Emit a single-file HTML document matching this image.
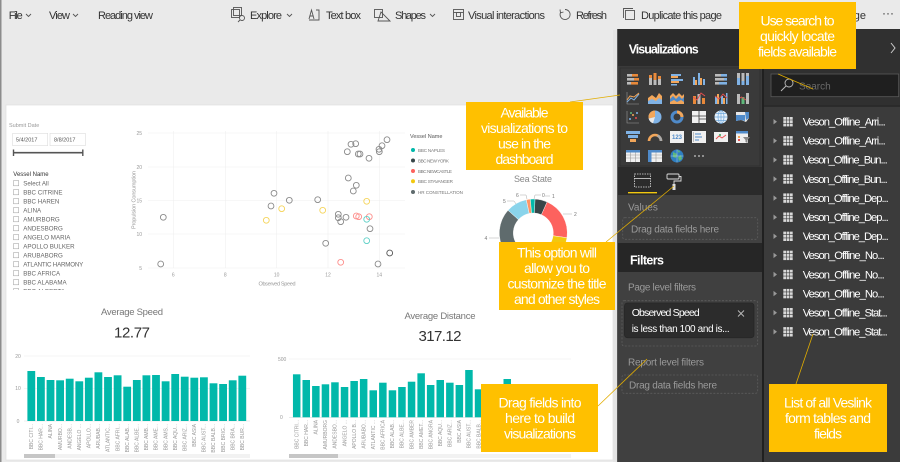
<!DOCTYPE html>
<html><head><meta charset="utf-8">
<style>
html,body{margin:0;padding:0;width:900px;height:462px;overflow:hidden;background:#eaeaea}
svg{display:block}
text{font-family:"Liberation Sans",sans-serif}
</style></head><body>
<svg width="900" height="462" viewBox="0 0 900 462" xmlns="http://www.w3.org/2000/svg">
<defs>
<clipPath id="slc"><rect x="8" y="176" width="100" height="114"/></clipPath>
</defs>
<rect width="900" height="462" fill="#eaeaea"/>
<rect x="0" y="0" width="1.5" height="462" fill="#8c8c8c"/>

<!-- ===== Toolbar ===== -->
<g font-size="11" fill="#333">
<text x="8.7" y="19" textLength="14">File</text>
<text x="49" y="19" textLength="21">View</text>
<text x="98" y="19" textLength="55">Reading view</text>
<text x="250" y="19" textLength="32">Explore</text>
<text x="326" y="19" textLength="35">Text box</text>
<text x="395" y="19" textLength="31">Shapes</text>
<text x="468" y="19" textLength="77">Visual interactions</text>
<text x="576" y="19" textLength="31">Refresh</text>
<text x="641" y="19" textLength="81">Duplicate this page</text>
<text x="866" y="19" text-anchor="end">page</text>
<text x="882" y="17" font-size="12">···</text>
</g>
<g fill="none" stroke="#555" stroke-width="0.9">
<polyline points="26,14 28.5,16.5 31,14"/>
<polyline points="73,14 75.5,16.5 78,14"/>
<polyline points="287,14 289.5,16.5 292,14"/>
<polyline points="430,14 432.5,16.5 435,14"/>
<!-- explore -->
<rect x="231.5" y="9.5" width="8" height="8"/><rect x="233.5" y="7.5" width="8" height="8"/><circle cx="242" cy="18" r="2.5"/><line x1="240" y1="20" x2="238" y2="22"/>
<!-- text box -->
<path d="M309,19 L311.5,10 L314,19 M310,16 H313"/><path d="M316,10 H319 V20 H309"/>
<!-- shapes -->
<rect x="374.5" y="9.5" width="8" height="8"/><path d="M381,12 L390,21 H378 Z"/>
<!-- visual interactions -->
<rect x="453.5" y="9.5" width="10" height="10"/><rect x="456.5" y="12.5" width="4" height="4"/><line x1="453.5" y1="12.5" x2="463.5" y2="12.5"/>
<!-- refresh -->
<path d="M565,9.5 A5,5 0 1 1 560.5,12.5"/><polyline points="560,9.5 560.5,12.8 563.5,12"/>
<!-- duplicate -->
<rect x="625.5" y="10.5" width="9" height="9"/><path d="M623.5,18 V8.5 H633"/>
</g>

<!-- ===== Canvas ===== -->
<rect x="6" y="105" width="607" height="355" fill="#ffffff" stroke="#dcdcdc" stroke-width="0.6"/>
<rect x="613" y="30" width="4.5" height="432" fill="#e4e4e4"/>
<rect x="617" y="29" width="1.2" height="433" fill="#555"/>

<!-- Slicer date -->
<text x="9" y="127" font-size="5.5" fill="#999">Submit Date</text>
<rect x="12.7" y="133.3" width="35" height="12.4" fill="#fff" stroke="#ddd" stroke-width="0.6"/>
<rect x="50" y="133.3" width="35.3" height="12.4" fill="#fff" stroke="#ddd" stroke-width="0.6"/>
<text x="16" y="141.5" font-size="5.5" fill="#555">5/4/2017</text>
<text x="54" y="141.5" font-size="5.5" fill="#555">8/8/2017</text>
<line x1="13" y1="152.7" x2="83" y2="152.7" stroke="#555" stroke-width="1.6"/>
<line x1="13.5" y1="149.5" x2="13.5" y2="156" stroke="#555" stroke-width="1.4"/>
<line x1="82.8" y1="149.5" x2="82.8" y2="156" stroke="#555" stroke-width="1.4"/>
<text x="13.3" y="176" font-size="6" fill="#333">Vessel Name</text>
<g clip-path="url(#slc)" font-size="6.2" fill="#666">
<g fill="none" stroke="#9a9a9a" stroke-width="0.5">
<rect x="13.5" y="180.6" width="5.2" height="5.2"/><rect x="13.5" y="189.6" width="5.2" height="5.2"/><rect x="13.5" y="198.6" width="5.2" height="5.2"/><rect x="13.5" y="207.6" width="5.2" height="5.2"/><rect x="13.5" y="216.6" width="5.2" height="5.2"/><rect x="13.5" y="225.6" width="5.2" height="5.2"/><rect x="13.5" y="234.6" width="5.2" height="5.2"/><rect x="13.5" y="243.6" width="5.2" height="5.2"/><rect x="13.5" y="252.6" width="5.2" height="5.2"/><rect x="13.5" y="261.6" width="5.2" height="5.2"/><rect x="13.5" y="270.6" width="5.2" height="5.2"/><rect x="13.5" y="279.6" width="5.2" height="5.2"/><rect x="13.5" y="288.6" width="5.2" height="5.2"/>
</g>
<text x="23.3" y="185.5">Select All</text>
<text x="23.3" y="194.5">BBC CITRINE</text>
<text x="23.3" y="203.5">BBC HAREN</text>
<text x="23.3" y="212.5">ALINA</text>
<text x="23.3" y="221.5">AMURBORG</text>
<text x="23.3" y="230.5">ANDESBORG</text>
<text x="23.3" y="239.5">ANGELO MARIA</text>
<text x="23.3" y="248.5">APOLLO BULKER</text>
<text x="23.3" y="257.5">ARUBABORG</text>
<text x="23.3" y="266.5" textLength="60">ATLANTIC HARMONY</text>
<text x="23.3" y="275.5">BBC AFRICA</text>
<text x="23.3" y="284.5">BBC ALABAMA</text>
<text x="23.3" y="293.5">BBC ALBERTA</text>
</g>

<!-- Scatter -->
<g stroke="#efefef" stroke-width="0.6">
<line x1="148" y1="133" x2="405" y2="133"/><line x1="148" y1="167" x2="405" y2="167"/><line x1="148" y1="200.5" x2="405" y2="200.5"/><line x1="148" y1="234" x2="405" y2="234"/><line x1="148" y1="268" x2="405" y2="268"/>
<line x1="173.3" y1="131" x2="173.3" y2="268"/><line x1="225.3" y1="131" x2="225.3" y2="268"/><line x1="276.7" y1="131" x2="276.7" y2="268"/><line x1="328" y1="131" x2="328" y2="268"/><line x1="379.3" y1="131" x2="379.3" y2="268"/>
</g>
<g font-size="5" fill="#999">
<text x="142" y="135" text-anchor="end">25</text>
<text x="142" y="169" text-anchor="end">20</text>
<text x="142" y="202.5" text-anchor="end">15</text>
<text x="142" y="236" text-anchor="end">10</text>
<text x="142" y="270" text-anchor="end">5</text>
<text x="173.3" y="276.5" text-anchor="middle">6</text>
<text x="225.3" y="276.5" text-anchor="middle">8</text>
<text x="276.7" y="276.5" text-anchor="middle">10</text>
<text x="328" y="276.5" text-anchor="middle">12</text>
<text x="379.3" y="276.5" text-anchor="middle">14</text>
<text x="277" y="285.5" text-anchor="middle" font-size="5.5" textLength="37">Observed Speed</text>
<text transform="translate(135.5,200) rotate(-90)" text-anchor="middle" font-size="5.5" textLength="58">Propulsion Consumption</text>
</g>
<g fill="none" stroke-width="0.9">
<g stroke="#8a8a8a">
<circle cx="163.3" cy="217.3" r="2.9"/><circle cx="160.7" cy="264" r="2.9"/><circle cx="271" cy="206" r="2.9"/><circle cx="274" cy="193.3" r="2.9"/><circle cx="289.3" cy="200.3" r="2.9"/><circle cx="317.7" cy="199.7" r="2.9"/><circle cx="325.7" cy="243.3" r="2.9"/><circle cx="338.3" cy="214.3" r="2.9"/><circle cx="338.3" cy="217.7" r="2.9"/><circle cx="340.7" cy="221.7" r="2.9"/><circle cx="346" cy="217.3" r="2.9"/><circle cx="348.3" cy="178" r="2.9"/><circle cx="347.3" cy="151.7" r="2.9"/><circle cx="351" cy="144.3" r="2.9"/><circle cx="355.7" cy="143.7" r="2.9"/><circle cx="353.3" cy="191" r="2.9"/><circle cx="356.3" cy="185.3" r="2.9"/><circle cx="358.3" cy="154" r="2.9"/><circle cx="360" cy="154" r="2.9"/><circle cx="369" cy="158.3" r="2.9"/><circle cx="370" cy="228.7" r="2.9"/><circle cx="379" cy="149.3" r="2.9"/><circle cx="379.3" cy="151.7" r="2.9"/><circle cx="382" cy="145.7" r="2.9"/><circle cx="387" cy="139.7" r="2.9"/><circle cx="378" cy="264" r="2.9"/>
</g>
<circle cx="389.7" cy="253" r="2.9" stroke="#555"/>
<g stroke="#f5d45a"><circle cx="266.3" cy="220.3" r="2.9"/><circle cx="281.7" cy="208.7" r="2.9"/><circle cx="322.7" cy="210.3" r="2.9"/><circle cx="366.7" cy="201.3" r="2.9"/></g>
<g stroke="#fd8e8b"><circle cx="340.7" cy="262.3" r="2.9"/><circle cx="356.3" cy="216" r="2.9"/><circle cx="358.7" cy="216.7" r="2.9"/><circle cx="369.3" cy="216.7" r="2.9"/></g>
<g stroke="#5fd0c7"><circle cx="366.7" cy="219.3" r="2.9"/><circle cx="366.7" cy="240.7" r="2.9"/></g>
</g>
<!-- legend -->
<text x="410" y="138" font-size="5.5" fill="#555">Vessel Name</text>
<circle cx="413" cy="150" r="2" fill="#01b8aa"/><circle cx="413" cy="160.5" r="2" fill="#374649"/><circle cx="413" cy="171" r="2" fill="#fd625e"/><circle cx="413" cy="181.3" r="2" fill="#f2c80f"/><circle cx="413" cy="192" r="2" fill="#5f6b6d"/>
<g font-size="4.6" fill="#777">
<text x="418" y="151.8" textLength="27">BBC NAPLES</text>
<text x="418" y="162.3" textLength="31">BBC NEW YORK</text>
<text x="418" y="172.8" textLength="34">BBC NEWCASTLE</text>
<text x="418" y="183.1" textLength="35">BBC STAVANGER</text>
<text x="418" y="193.8" textLength="45">HR CONSTELLATION</text>
</g>

<!-- Donut -->
<text x="533" y="182" font-size="9" fill="#888" text-anchor="middle" textLength="38">Sea State</text>
<g stroke="#fff" stroke-width="0.4">
<path d="M526.23,199.74 A34,34 0 0 1 530.34,199.13 L531.56,213.08 A20,20 0 0 0 529.14,213.44 Z" fill="#fe9666"/>
<path d="M530.34,199.13 A34,34 0 0 1 535.08,199.05 L534.35,213.03 A20,20 0 0 0 531.56,213.08 Z" fill="#01b8aa"/>
<path d="M535.08,199.05 A34,34 0 0 1 547.13,201.94 L541.43,214.73 A20,20 0 0 0 534.35,213.03 Z" fill="#374649"/>
<path d="M547.13,201.94 A34,34 0 0 1 566.97,237.73 L553.11,235.78 A20,20 0 0 0 541.43,214.73 Z" fill="#fd625e"/>
<path d="M566.97,237.73 A34,34 0 0 1 542.10,265.84 L538.48,252.32 A20,20 0 0 0 553.11,235.78 Z" fill="#f2c80f"/>
<path d="M542.10,265.84 A34,34 0 0 1 508.03,210.25 L518.44,219.62 A20,20 0 0 0 538.48,252.32 Z" fill="#5f6b6d"/>
<path d="M508.03,210.25 A34,34 0 0 1 526.23,199.74 L529.14,213.44 A20,20 0 0 0 518.44,219.62 Z" fill="#8ad4eb"/>
</g>
<g stroke="#aaa" stroke-width="0.5" fill="none">
<path d="M520,195 H526 L527,199"/><path d="M507,201 H514 L516,204"/><path d="M541,195 H535 L534,199"/><path d="M545,196 H550"/><path d="M563,214 H572"/><path d="M489,238 H499"/>
</g>
<g font-size="5" fill="#777">
<text x="516" y="197">6</text><text x="503" y="203">5</text><text x="542" y="197">0</text><text x="552" y="198">1</text><text x="574" y="216">2</text><text x="484.5" y="240">4</text>
</g>

<!-- Average Speed card -->
<text x="132" y="315" font-size="9.5" fill="#777" text-anchor="middle" textLength="62">Average Speed</text>
<text x="132" y="337.5" font-size="15" fill="#333" text-anchor="middle" textLength="36">12.77</text>
<g stroke="#eee" stroke-width="0.6"><line x1="24" y1="356" x2="250" y2="356"/><line x1="24" y1="388.3" x2="250" y2="388.3"/></g>
<line x1="24" y1="421" x2="250" y2="421" stroke="#ddd" stroke-width="0.6"/>
<g font-size="5" fill="#999"><text x="18" y="358" text-anchor="middle">20</text><text x="18" y="390" text-anchor="middle">10</text><text x="18" y="423" text-anchor="middle">0</text></g>
<g fill="#01b8aa">
<rect x="27.4" y="371" width="7.8" height="50"/><rect x="37.0" y="377" width="7.8" height="44"/><rect x="46.6" y="380" width="7.8" height="41"/><rect x="56.2" y="380.3" width="7.8" height="40.7"/><rect x="65.8" y="378.7" width="7.8" height="42.3"/><rect x="75.4" y="381.3" width="7.8" height="39.7"/><rect x="84.9" y="377.7" width="7.8" height="43.3"/><rect x="94.5" y="372.3" width="7.8" height="48.7"/><rect x="104.1" y="377" width="7.8" height="44"/><rect x="113.7" y="375.3" width="7.8" height="45.7"/><rect x="123.3" y="386.7" width="7.8" height="34.3"/><rect x="132.9" y="380" width="7.8" height="41"/><rect x="142.5" y="375.3" width="7.8" height="45.7"/><rect x="152.1" y="375" width="7.8" height="46"/><rect x="161.7" y="381.3" width="7.8" height="39.7"/><rect x="171.3" y="374" width="7.8" height="47"/><rect x="180.8" y="376.7" width="7.8" height="44.3"/><rect x="190.4" y="377.7" width="7.8" height="43.3"/><rect x="200.0" y="377.3" width="7.8" height="43.7"/><rect x="209.6" y="383.3" width="7.8" height="37.7"/><rect x="219.2" y="384" width="7.8" height="37"/><rect x="228.8" y="380.3" width="7.8" height="40.7"/><rect x="238.4" y="375.7" width="7.8" height="45.3"/>
</g>
<g font-size="5" fill="#999" text-anchor="end">
<text transform="translate(33,424) rotate(-90)">BBC CITI...</text>
<text transform="translate(42.6,424) rotate(-90)">BBC HAR...</text>
<text transform="translate(52.2,424) rotate(-90)">ALINA</text>
<text transform="translate(61.8,424) rotate(-90)">AMURBO...</text>
<text transform="translate(71.4,424) rotate(-90)">ANDESB...</text>
<text transform="translate(81,424) rotate(-90)">ANGELO ...</text>
<text transform="translate(90.5,424) rotate(-90)">APOLLO...</text>
<text transform="translate(100.1,424) rotate(-90)">ARUBAB...</text>
<text transform="translate(109.7,424) rotate(-90)">ATLANTIC...</text>
<text transform="translate(119.3,424) rotate(-90)">BBC AFRI...</text>
<text transform="translate(128.9,424) rotate(-90)">BBC ALAB...</text>
<text transform="translate(138.5,424) rotate(-90)">BBC ALBE...</text>
<text transform="translate(148.1,424) rotate(-90)">BBC AMB...</text>
<text transform="translate(157.7,424) rotate(-90)">BBC AME...</text>
<text transform="translate(167.3,424) rotate(-90)">BBC AMS...</text>
<text transform="translate(176.9,424) rotate(-90)">BBC AQU...</text>
<text transform="translate(186.4,424) rotate(-90)">BBC ARIZ...</text>
<text transform="translate(196,424) rotate(-90)">BBC ASIA</text>
<text transform="translate(205.6,424) rotate(-90)">BBC AUST...</text>
<text transform="translate(215.2,424) rotate(-90)">BBC BALB...</text>
<text transform="translate(224.8,424) rotate(-90)">BBC BRIG...</text>
<text transform="translate(234.4,424) rotate(-90)">BBC BRA...</text>
<text transform="translate(244,424) rotate(-90)">BBC BUR...</text>
</g>
<rect x="24" y="454" width="226" height="4" fill="#f2f2f2"/>
<rect x="24" y="454" width="31" height="4" fill="#c6c6c6"/>

<!-- Average Distance card -->
<text x="440" y="319" font-size="9.5" fill="#777" text-anchor="middle" textLength="71">Average Distance</text>
<text x="440" y="341" font-size="15" fill="#333" text-anchor="middle" textLength="43">317.12</text>
<line x1="289" y1="359" x2="571" y2="359" stroke="#eee" stroke-width="0.6"/>
<line x1="289" y1="417.3" x2="571" y2="417.3" stroke="#ddd" stroke-width="0.6"/>
<g font-size="5" fill="#999"><text x="278" y="361">500</text><text x="280" y="419">0</text></g>
<g fill="#01b8aa">
<rect x="292.95" y="374.3" width="7.5" height="43"/><rect x="302.5" y="380" width="7.5" height="37.3"/><rect x="312.1" y="386" width="7.5" height="31.3"/><rect x="321.7" y="384.3" width="7.5" height="33"/><rect x="331.2" y="382.3" width="7.5" height="35"/><rect x="340.8" y="387" width="7.5" height="30.3"/><rect x="350.4" y="381" width="7.5" height="36.3"/><rect x="359.9" y="379" width="7.5" height="38.3"/><rect x="369.5" y="390.3" width="7.5" height="27"/><rect x="379.1" y="382.7" width="7.5" height="34.6"/><rect x="388.7" y="390.3" width="7.5" height="27"/><rect x="398.2" y="387" width="7.5" height="30.3"/><rect x="407.8" y="381.7" width="7.5" height="35.6"/><rect x="417.4" y="373.3" width="7.5" height="44"/><rect x="426.9" y="385" width="7.5" height="32.3"/><rect x="436.5" y="380" width="7.5" height="37.3"/><rect x="446.1" y="382.7" width="7.5" height="34.6"/><rect x="455.6" y="385" width="7.5" height="32.3"/><rect x="465.2" y="370" width="7.5" height="47.3"/><rect x="474.8" y="389.3" width="7.5" height="28"/><rect x="484.4" y="388" width="7.5" height="29.3"/><rect x="493.9" y="387" width="7.5" height="30.3"/><rect x="503.5" y="379" width="7.5" height="38.3"/><rect x="513.1" y="388" width="7.5" height="29.3"/><rect x="522.6" y="386" width="7.5" height="31.3"/>
</g>
<g font-size="5" fill="#999" text-anchor="end">
<text transform="translate(298.4,420) rotate(-90)">BBC CITRI...</text>
<text transform="translate(308,420) rotate(-90)">BBC HAR...</text>
<text transform="translate(317.6,420) rotate(-90)">ALINA</text>
<text transform="translate(327.2,420) rotate(-90)">AMURBORG</text>
<text transform="translate(336.7,420) rotate(-90)">ANDESBO...</text>
<text transform="translate(346.3,420) rotate(-90)">ANGELO ...</text>
<text transform="translate(355.9,420) rotate(-90)">APOLLO B...</text>
<text transform="translate(365.4,420) rotate(-90)">ARUBABO...</text>
<text transform="translate(375,420) rotate(-90)">ATLANTIC ...</text>
<text transform="translate(384.6,420) rotate(-90)">BBC AFRICA</text>
<text transform="translate(394.2,420) rotate(-90)">BBC ALAB...</text>
<text transform="translate(403.7,420) rotate(-90)">BBC ALBE...</text>
<text transform="translate(413.3,420) rotate(-90)">BBC AMBER</text>
<text transform="translate(422.9,420) rotate(-90)">BBC AMET...</text>
<text transform="translate(432.4,420) rotate(-90)">BBC ANGRA</text>
<text transform="translate(442,420) rotate(-90)">BBC AQU...</text>
<text transform="translate(451.6,420) rotate(-90)">BBC ARIZ...</text>
<text transform="translate(461.1,420) rotate(-90)">BBC ASIA</text>
<text transform="translate(470.7,420) rotate(-90)">BBC AUST...</text>
<text transform="translate(480.3,420) rotate(-90)">BBC BALB...</text>
</g>
<rect x="289" y="454" width="282" height="4" fill="#f2f2f2"/>
<rect x="289" y="454" width="49" height="4" fill="#c6c6c6"/>

<!-- ===== Visualizations panel ===== -->
<rect x="618" y="29" width="144" height="37" fill="#2b2b2b"/>
<rect x="618" y="66" width="144" height="101" fill="#3a3a3a"/>
<rect x="620" y="68" width="140" height="98" fill="none" stroke="#303030" stroke-width="1"/>
<rect x="618" y="167" width="144" height="28" fill="#2b2b2b"/>
<rect x="618" y="195" width="144" height="48" fill="#414141"/>
<rect x="618" y="243" width="144" height="29" fill="#262626"/>
<rect x="618" y="272" width="144" height="190" fill="#404040"/>
<rect x="762" y="29" width="2" height="433" fill="#202020"/>
<rect x="764" y="29" width="136" height="77" fill="#303030"/>
<rect x="764" y="106" width="136" height="356" fill="#3b3b3b"/>
<rect x="764" y="105.5" width="136" height="1.2" fill="#252525"/>

<text x="628.7" y="53.5" font-size="12.5" font-weight="bold" fill="#fff" textLength="70">Visualizations</text>
<polyline points="891,43 895,48 891,53" fill="none" stroke="#ccc" stroke-width="1"/>

<!-- icon grid -->
<g>
<!-- row1 y=79 -->
<g transform="translate(633,79)"><rect x="-6" y="-5" width="5" height="2.6" fill="#bbb"/><rect x="-1" y="-5" width="6" height="2.6" fill="#e8893a"/><rect x="-6" y="-1" width="7" height="2.6" fill="#bbb"/><rect x="1" y="-1" width="5" height="2.6" fill="#e8893a"/><rect x="-6" y="3" width="4" height="2.6" fill="#bbb"/><rect x="-2" y="3" width="7" height="2.6" fill="#e8893a"/></g>
<g transform="translate(655,79)"><rect x="-6" y="-1" width="3" height="7" fill="#bbb"/><rect x="-6" y="-4" width="3" height="3" fill="#e8893a"/><rect x="-1.5" y="1" width="3" height="5" fill="#bbb"/><rect x="-1.5" y="-6" width="3" height="7" fill="#e8893a"/><rect x="3" y="0" width="3" height="6" fill="#bbb"/><rect x="3" y="-3" width="3" height="3" fill="#e8893a"/></g>
<g transform="translate(677,79)"><rect x="-6" y="-5" width="10" height="2" fill="#7fb2e5"/><rect x="-6" y="-3" width="7" height="2" fill="#f2a65a"/><rect x="-6" y="0" width="12" height="2" fill="#7fb2e5"/><rect x="-6" y="2" width="8" height="2" fill="#f2a65a"/><rect x="-6" y="5" width="6" height="1.5" fill="#7fb2e5"/></g>
<g transform="translate(699,79)"><rect x="-6" y="-2" width="2" height="8" fill="#7fb2e5"/><rect x="-4" y="1" width="2" height="5" fill="#f2a65a"/><rect x="-1" y="-6" width="2" height="12" fill="#7fb2e5"/><rect x="1" y="-1" width="2" height="7" fill="#f2a65a"/><rect x="4" y="0" width="2" height="6" fill="#7fb2e5"/></g>
<g transform="translate(721,79)"><rect x="-6" y="-5" width="6" height="2.6" fill="#bbb"/><rect x="0" y="-5" width="6" height="2.6" fill="#7fb2e5"/><rect x="-6" y="-1" width="9" height="2.6" fill="#bbb"/><rect x="3" y="-1" width="3" height="2.6" fill="#7fb2e5"/><rect x="-6" y="3" width="4" height="2.6" fill="#bbb"/><rect x="-2" y="3" width="8" height="2.6" fill="#7fb2e5"/></g>
<g transform="translate(743,79)"><rect x="-6" y="-6" width="3" height="5" fill="#bbb"/><rect x="-6" y="-1" width="3" height="7" fill="#7fb2e5"/><rect x="-1.5" y="-6" width="3" height="8" fill="#bbb"/><rect x="-1.5" y="2" width="3" height="4" fill="#7fb2e5"/><rect x="3" y="-6" width="3" height="3" fill="#bbb"/><rect x="3" y="-3" width="3" height="9" fill="#7fb2e5"/></g>
<!-- row2 y=98 -->
<g transform="translate(633,98)"><path d="M-6,-6 V6 H6" stroke="#999" fill="none" stroke-width="0.6"/><polyline points="-6,4 -2,0 1,2 6,-4" stroke="#7fb2e5" fill="none" stroke-width="1"/><polyline points="-6,2 -3,-2 1,-1 6,-5" stroke="#f2a65a" fill="none" stroke-width="1"/></g>
<g transform="translate(655,98)"><path d="M-7,6 V0 L-3,-3 L1,0 L4,-5 L7,-2 V6 Z" fill="#f2a65a"/><path d="M-7,6 V3 L-3,1 L1,3 L4,0 L7,2 V6 Z" fill="#7fb2e5"/></g>
<g transform="translate(677,98)"><path d="M-7,6 V-2 L-4,-5 L-1,-2 L2,-5 L5,-2 L7,-4 V6 Z" fill="#f2a65a"/><path d="M-7,6 V1 L-4,-2 L-1,1 L2,-2 L5,1 L7,-1 V6 Z" fill="#4f8ac9"/><path d="M-7,6 V4 L-3,2 L0,4 L4,2 L7,4 V6 Z" fill="#f2a65a"/></g>
<g transform="translate(699,98)"><rect x="-6" y="-2" width="3" height="8" fill="#e8893a"/><rect x="-1.5" y="-4" width="3" height="10" fill="#bbb"/><rect x="3" y="0" width="3" height="6" fill="#e8893a"/><polyline points="-6,-1 -2,2 2,-5 6,-2" stroke="#e84e4e" fill="none" stroke-width="0.9"/></g>
<g transform="translate(721,98)"><rect x="-6" y="-1" width="2" height="7" fill="#7fb2e5"/><rect x="-4" y="-4" width="2" height="10" fill="#f2a65a"/><rect x="0" y="-2" width="2" height="8" fill="#7fb2e5"/><rect x="2" y="0" width="2" height="6" fill="#f2a65a"/><rect x="5" y="-5" width="1.5" height="11" fill="#7fb2e5"/><polyline points="-6,-2 -2,1 2,-4 6,0" stroke="#e84e4e" fill="none" stroke-width="0.9"/></g>
<g transform="translate(743,98)"><rect x="-6" y="-4" width="3" height="10" fill="#bbb"/><rect x="-1.5" y="-1" width="3" height="7" fill="#5fb87a"/><rect x="3" y="-5" width="3" height="11" fill="#bbb"/><polyline points="-3,0 -1.5,-1 3,2" stroke="#e84e4e" fill="none" stroke-width="0.8"/></g>
<!-- row3 y=117 -->
<g transform="translate(633,117)"><path d="M-6,-6 V6 H6" stroke="#999" fill="none" stroke-width="0.6"/><circle cx="-3" cy="2" r="1" fill="#7fb2e5"/><circle cx="0" cy="-2" r="1" fill="#f2a65a"/><circle cx="3" cy="1" r="1" fill="#e84e4e"/><circle cx="4" cy="-4" r="1" fill="#7fb2e5"/><circle cx="-2" cy="-4" r="1" fill="#5fb87a"/></g>
<g transform="translate(655,117)"><circle cx="0" cy="0" r="6.5" fill="#7fb2e5"/><path d="M0,0 L0,-6.5 A6.5,6.5 0 0 0 -6.3,1.6 Z" fill="#f2a65a"/><path d="M0,0 L-6.3,1.6 A6.5,6.5 0 0 0 -2,6.2 Z" fill="#e8e8e8"/></g>
<g transform="translate(677,117)"><circle cx="0" cy="0" r="5" fill="none" stroke="#4f8ac9" stroke-width="3"/><path d="M0,-5 A5,5 0 0 1 5,0" fill="none" stroke="#f2a65a" stroke-width="3"/></g>
<g transform="translate(699,117)"><rect x="-7" y="-6" width="14" height="12" fill="#f0f0f0"/><path d="M-7,-1 H7 M0,-6 V6 M0,2 H7" stroke="#3a3a3a" stroke-width="0.8"/></g>
<g transform="translate(721,117)"><circle cx="0" cy="0" r="6.5" fill="#e8f2fb"/><path d="M-6.5,0 H6.5 M0,-6.5 V6.5 M-5,-3.5 H5 M-5,3.5 H5" stroke="#6fa8dc" stroke-width="0.7"/><ellipse cx="0" cy="0" rx="3" ry="6.5" fill="none" stroke="#6fa8dc" stroke-width="0.7"/></g>
<g transform="translate(743,117)"><path d="M-7,-5 H6 V1 L3,5 L-2,3 L-7,4 Z" fill="#e8e8e8"/><path d="M-7,-2 H2 V4 L-2,3 L-7,4 Z" fill="#4f8ac9"/><path d="M2,-5 H6 V1 L3,3 Z" fill="#4f8ac9"/></g>
<!-- row4 y=137 -->
<g transform="translate(633,137)"><rect x="-7" y="-6" width="14" height="3" fill="#7fb2e5"/><rect x="-5" y="-2" width="10" height="3" fill="#7fb2e5"/><rect x="-3" y="2" width="6" height="3" fill="#f2a65a"/></g>
<g transform="translate(655,137)"><path d="M-6,4 A6,6 0 0 1 6,4" fill="none" stroke="#f2a65a" stroke-width="2.6"/><path d="M2.5,-1.5 A6,6 0 0 1 6,4" fill="none" stroke="#aaa" stroke-width="2.6"/></g>
<g transform="translate(677,137)"><rect x="-7" y="-6" width="14" height="12" fill="#f0f0f0"/><text x="0" y="2" font-size="6" fill="#4f8ac9" text-anchor="middle" font-weight="bold">123</text></g>
<g transform="translate(699,137)"><rect x="-7" y="-6" width="14" height="12" fill="#f0f0f0"/><path d="M-4,-3 H2 M-4,0 H3 M-4,3 H0" stroke="#4f8ac9" stroke-width="1"/><rect x="-6" y="-5" width="1" height="10" fill="#bbb"/></g>
<g transform="translate(721,137)"><rect x="-7" y="-5" width="14" height="10" fill="#f0f0f0"/><polyline points="-5,2 -2,-1 1,1 5,-2" stroke="#e84e4e" fill="none" stroke-width="0.9"/><rect x="-2" y="-3" width="2" height="2" fill="#5fb87a"/></g>
<g transform="translate(743,137)"><rect x="-7" y="-6" width="12" height="12" fill="#f0f0f0"/><rect x="-7" y="-6" width="12" height="2.5" fill="#4f8ac9"/><rect x="-5" y="-1" width="2" height="2" fill="#f2a65a"/><rect x="-5" y="2" width="2" height="2" fill="#e84e4e"/><path d="M0,0 H7 L4.5,3 V6 L2.5,5 V3 Z" fill="#888"/></g>
<!-- row5 y=156 -->
<g transform="translate(633,156)"><rect x="-7" y="-6" width="14" height="12" fill="#f0f0f0"/><rect x="-7" y="-6" width="14" height="2.5" fill="#4f8ac9"/><path d="M-7,-1 H7 M-7,2 H7 M-2.5,-3.5 V6 M2.5,-3.5 V6" stroke="#999" stroke-width="0.6"/></g>
<g transform="translate(655,156)"><rect x="-7" y="-6" width="14" height="12" fill="#f0f0f0"/><rect x="-7" y="-6" width="14" height="2.5" fill="#4f8ac9"/><rect x="-7" y="-6" width="3.5" height="12" fill="#4f8ac9"/><path d="M-3.5,-1 H7 M-3.5,2 H7 M1,-3.5 V6" stroke="#999" stroke-width="0.6"/></g>
<g transform="translate(677,156)"><circle cx="0" cy="0" r="6.5" fill="#2f7fc1"/><path d="M-4,-4 L0,-2 L-1,2 L-4,1 Z M1,1 L4,-1 L5,3 L2,5 Z M0,-6 L3,-5 L2,-3 Z" fill="#5fb87a"/><path d="M-6.5,0 H6.5 M0,-6.5 V6.5" stroke="#cfe3f5" stroke-width="0.4"/></g>
<g fill="#ccc"><circle cx="695" cy="156" r="0.9"/><circle cx="699" cy="156" r="0.9"/><circle cx="703" cy="156" r="0.9"/></g>
</g>

<!-- tabs -->
<rect x="634.5" y="174" width="16" height="13" fill="none" stroke="#ddd" stroke-width="0.8" stroke-dasharray="1.5,1"/>
<line x1="634.5" y1="178.5" x2="650.5" y2="178.5" stroke="#ddd" stroke-width="0.8"/>
<line x1="628" y1="192.7" x2="657" y2="192.7" stroke="#f2c80f" stroke-width="1.3"/>
<rect x="667" y="174" width="12" height="5" rx="1" fill="none" stroke="#ddd" stroke-width="0.9"/>
<path d="M679,176.5 H681 V181 H674 V184" fill="none" stroke="#ddd" stroke-width="0.9"/>
<rect x="672.5" y="184" width="3" height="6" fill="#ddd"/>

<text x="628" y="210.5" font-size="10" fill="#9a9a9a">Values</text>
<rect x="622.7" y="217.7" width="135" height="21.6" rx="2" fill="none" stroke="#5c5c5c" stroke-width="0.8" stroke-dasharray="2,1.5"/>
<text x="631" y="232.5" font-size="10" fill="#9a9a9a" textLength="88">Drag data fields here</text>

<text x="630" y="264.5" font-size="12.5" font-weight="bold" fill="#fff" textLength="34">Filters</text>
<text x="628" y="290.5" font-size="10" fill="#9a9a9a" textLength="68">Page level filters</text>
<rect x="622" y="300.7" width="135.7" height="45.3" rx="2" fill="none" stroke="#5c5c5c" stroke-width="0.8" stroke-dasharray="2,1.5"/>
<rect x="624.5" y="303" width="129.5" height="34.7" rx="3" fill="#2c2c2c" stroke="#262626" stroke-width="0.8"/>
<text x="631.7" y="316" font-size="10.5" fill="#fff" textLength="68">Observed Speed</text>
<path d="M738,310.5 L744,316.5 M744,310.5 L738,316.5" stroke="#bbb" stroke-width="0.9"/>
<text x="631.7" y="331.8" font-size="10" fill="#fff" textLength="98">is less than 100 and is...</text>
<text x="628" y="365.3" font-size="10" fill="#9a9a9a" textLength="76">Report level filters</text>
<rect x="622" y="375" width="135.7" height="18.3" rx="2" fill="none" stroke="#5c5c5c" stroke-width="0.8" stroke-dasharray="2,1.5"/>
<text x="629" y="388.5" font-size="10" fill="#9a9a9a" textLength="88">Drag data fields here</text>

<!-- ===== Fields panel ===== -->
<rect x="771" y="74" width="127.7" height="22.7" fill="#1f1f1f" stroke="#5a5a5a" stroke-width="0.8"/>
<circle cx="789" cy="83" r="4" fill="none" stroke="#bbb" stroke-width="0.9"/>
<line x1="786" y1="86" x2="781" y2="91" stroke="#bbb" stroke-width="1"/>
<text x="799" y="89.5" font-size="10" fill="#6a6a6a">Search</text>

<g font-size="11.2" fill="#fff">
<text x="802.7" y="125.5" textLength="83">Veson_Offline_Arri...</text>
<text x="802.7" y="144.6" textLength="83">Veson_Offline_Arri...</text>
<text x="802.7" y="163.7" textLength="85">Veson_Offline_Bun...</text>
<text x="802.7" y="182.8" textLength="85">Veson_Offline_Bun...</text>
<text x="802.7" y="201.9" textLength="86">Veson_Offline_Dep...</text>
<text x="802.7" y="221" textLength="86">Veson_Offline_Dep...</text>
<text x="802.7" y="240.1" textLength="86">Veson_Offline_Dep...</text>
<text x="802.7" y="259.2" textLength="82">Veson_Offline_No...</text>
<text x="802.7" y="278.3" textLength="82">Veson_Offline_No...</text>
<text x="802.7" y="297.4" textLength="82">Veson_Offline_No...</text>
<text x="802.7" y="316.5" textLength="85">Veson_Offline_Stat...</text>
<text x="802.7" y="335.6" textLength="85">Veson_Offline_Stat...</text>
</g>
<g id="rowicons">
<g fill="#999">
<path d="M773.5,119 L777,121.7 L773.5,124.4 Z"/><path d="M773.5,138.1 L777,140.8 L773.5,143.5 Z"/><path d="M773.5,157.2 L777,159.9 L773.5,162.6 Z"/><path d="M773.5,176.3 L777,179 L773.5,181.7 Z"/><path d="M773.5,195.4 L777,198.1 L773.5,200.8 Z"/><path d="M773.5,214.5 L777,217.2 L773.5,219.9 Z"/><path d="M773.5,233.6 L777,236.3 L773.5,239 Z"/><path d="M773.5,252.7 L777,255.4 L773.5,258.1 Z"/><path d="M773.5,271.8 L777,274.5 L773.5,277.2 Z"/><path d="M773.5,290.9 L777,293.6 L773.5,296.3 Z"/><path d="M773.5,310 L777,312.7 L773.5,315.4 Z"/><path d="M773.5,329.1 L777,331.8 L773.5,334.5 Z"/>
</g>
<g fill="#d8d8d8" stroke="#3b3b3b" stroke-width="0.6">
<g transform="translate(783,116.7)"><rect width="10" height="10"/><path d="M0,3.3 H10 M0,6.6 H10 M3.3,0 V10 M6.6,0 V10"/></g>
<g transform="translate(783,135.8)"><rect width="10" height="10"/><path d="M0,3.3 H10 M0,6.6 H10 M3.3,0 V10 M6.6,0 V10"/></g>
<g transform="translate(783,154.9)"><rect width="10" height="10"/><path d="M0,3.3 H10 M0,6.6 H10 M3.3,0 V10 M6.6,0 V10"/></g>
<g transform="translate(783,174)"><rect width="10" height="10"/><path d="M0,3.3 H10 M0,6.6 H10 M3.3,0 V10 M6.6,0 V10"/></g>
<g transform="translate(783,193.1)"><rect width="10" height="10"/><path d="M0,3.3 H10 M0,6.6 H10 M3.3,0 V10 M6.6,0 V10"/></g>
<g transform="translate(783,212.2)"><rect width="10" height="10"/><path d="M0,3.3 H10 M0,6.6 H10 M3.3,0 V10 M6.6,0 V10"/></g>
<g transform="translate(783,231.3)"><rect width="10" height="10"/><path d="M0,3.3 H10 M0,6.6 H10 M3.3,0 V10 M6.6,0 V10"/></g>
<g transform="translate(783,250.4)"><rect width="10" height="10"/><path d="M0,3.3 H10 M0,6.6 H10 M3.3,0 V10 M6.6,0 V10"/></g>
<g transform="translate(783,269.5)"><rect width="10" height="10"/><path d="M0,3.3 H10 M0,6.6 H10 M3.3,0 V10 M6.6,0 V10"/></g>
<g transform="translate(783,288.6)"><rect width="10" height="10"/><path d="M0,3.3 H10 M0,6.6 H10 M3.3,0 V10 M6.6,0 V10"/></g>
<g transform="translate(783,307.7)"><rect width="10" height="10"/><path d="M0,3.3 H10 M0,6.6 H10 M3.3,0 V10 M6.6,0 V10"/></g>
<g transform="translate(783,326.8)"><rect width="10" height="10"/><path d="M0,3.3 H10 M0,6.6 H10 M3.3,0 V10 M6.6,0 V10"/></g>
</g>
</g>

<!-- ===== Connector lines ===== -->
<g stroke="#e2ad00" stroke-width="0.8" fill="none">
<line x1="570" y1="102" x2="620" y2="95"/>
<line x1="606" y1="242" x2="674" y2="186"/>
<line x1="778" y1="74" x2="813" y2="89"/>
<line x1="598" y1="406" x2="647" y2="359"/>
<line x1="796" y1="384" x2="813" y2="334"/>
</g>

<!-- ===== Callouts ===== -->
<g fill="#ffc000">
<rect x="739" y="2" width="117" height="67"/>
<rect x="466" y="102" width="117" height="68"/>
<rect x="499" y="242" width="116" height="68"/>
<rect x="481" y="384" width="117" height="68"/>
<rect x="769" y="384" width="118" height="68"/>
</g>
<g font-size="14" fill="#ffffff" text-anchor="middle" lengthAdjust="spacingAndGlyphs">
<text x="797.5" y="25.5" textLength="74">Use search to</text>
<text x="797.5" y="41" textLength="75">quickly locate</text>
<text x="797.5" y="56.5" textLength="79">fields available</text>

<text x="524.5" y="117.5" textLength="48">Available</text>
<text x="524.5" y="133" textLength="87">visualizations to</text>
<text x="524.5" y="148.5" textLength="53">use in the</text>
<text x="524.5" y="164" textLength="58">dashboard</text>

<text x="557" y="257.5" textLength="80">This option will</text>
<text x="557" y="273" textLength="66">allow you to</text>
<text x="557" y="288.5" textLength="99">customize the title</text>
<text x="557" y="304" textLength="86">and other styles</text>

<text x="540" y="407.5" textLength="83">Drag fields into</text>
<text x="540" y="423" textLength="70">here to build</text>
<text x="540" y="438.5" textLength="72">visualizations</text>

<text x="828" y="407.5" textLength="88">List of all Veslink</text>
<text x="828" y="423" textLength="86">form tables and</text>
<text x="828" y="438.5" textLength="28">fields</text>
</g>
</svg>
</body></html>
